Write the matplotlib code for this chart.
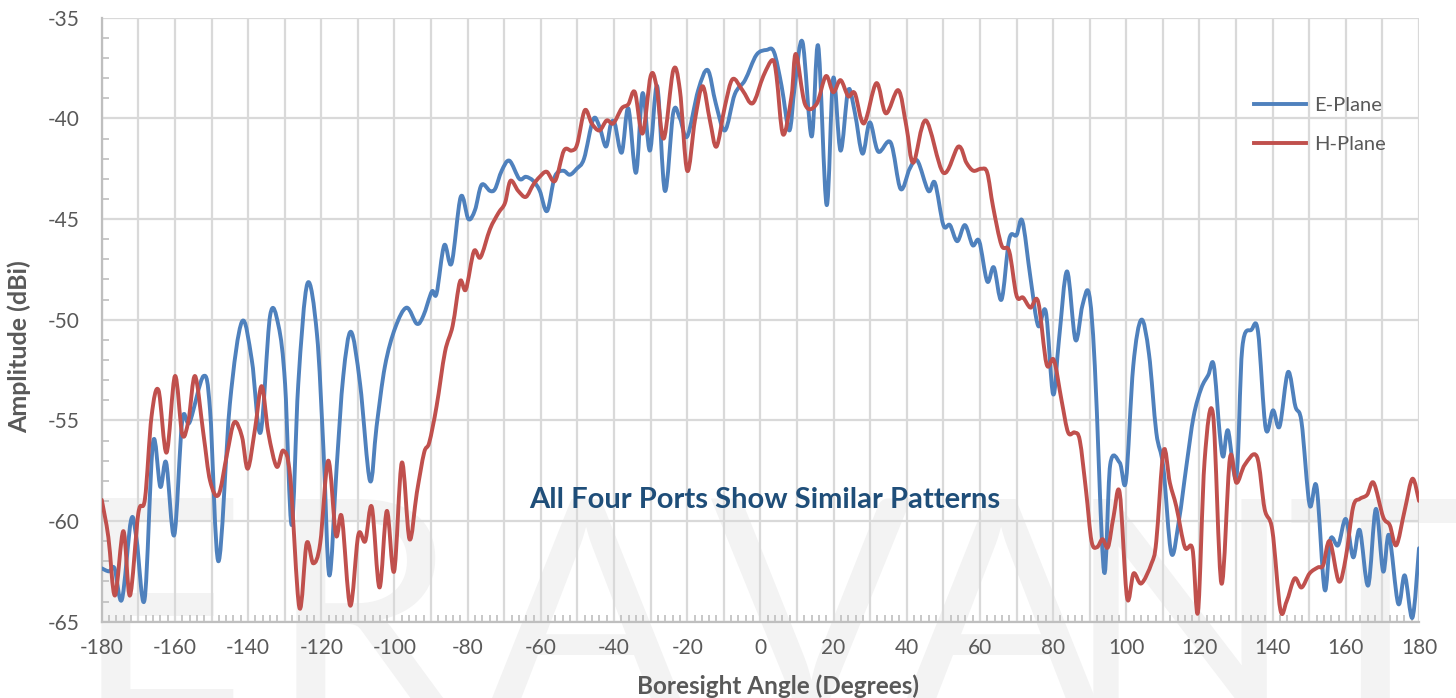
import matplotlib
matplotlib.use("Agg")
import numpy as np
import matplotlib.pyplot as plt
from matplotlib.ticker import MultipleLocator
from matplotlib.path import Path
from matplotlib.patches import PathPatch
from matplotlib.lines import Line2D

# ---------------- data ----------------
e_angle = [-180, -178, -176.5, -174.5, -172, -170.5, -168.3, -166, -164, -162.4, -160.2, -158, -156,
           -152.2, -150.4, -148.1, -145, -141.7, -139, -136.6, -134, -131.7, -129.9, -128.1, -126.3,
           -123.8, -121.2, -119.4, -117.8, -115.8, -114, -111.9, -109.4, -106.7, -104.9, -102.6, -99.8,
           -96.7, -93.9, -92.1, -89.8, -88.5, -86.4, -84.4, -81.9, -79.8, -78, -76.2, -73.9, -72.5,
           -70.7, -68.6, -65.9, -64.1, -62.1, -60.3, -58.3, -56.2, -53.9, -52.1, -50.2, -48.2, -45.7,
           -44, -42.2, -40.9, -39.8, -37.9, -36.1, -34, -32.2, -30.2, -28.2, -26.1, -23.8, -22, -20,
           -17, -14.4, -12.2, -9.7, -7, -4.2, -1.1, 1.7, 3.7, 5.8, 7.9, 9.4, 11.5, 14, 15.8, 18.1,
           19.9, 21.9, 24, 25.8, 27.9, 29.9, 32.2, 35.6, 38.3, 40.8, 42.9, 45.9, 47.7, 50, 51.8, 53.8,
           55.9, 58, 59.8, 62, 63.8, 65.9, 68, 70, 71.6, 73.8, 75.9, 78, 80, 81.6, 83.8, 86.1, 88,
           89.8, 91.4, 93.9, 95.6, 98.2, 99.9, 101.9, 104.1, 106.2, 108.2, 110.1, 112.3, 114.4, 116.4,
           118.4, 120.5, 122.4, 123.9, 125.5, 126.5, 127.8, 130.1, 131.7, 134.2, 136, 138.1, 140.1,
           141.9, 144.2, 146.2, 147.9, 150.1, 152, 154.2, 155.8, 157.9, 160, 162, 163.8, 166.1, 168.2,
           170.2, 171.8, 174.3, 176.1, 178.2, 180]
e_plane = [-62.35, -62.5, -62.35, -63.9, -59.95, -60.9, -63.9, -56.1, -58.3, -57.1, -60.7, -55.0, -55.1,
           -52.8, -54.5, -62.0, -54.2, -50.1, -52.0, -55.6, -49.8, -50.3, -53.2, -60.2, -53.2,
           -48.2, -50.7, -56.5, -62.7, -57.3, -52.8, -50.6, -53.2, -58.0, -55.3, -52.3, -50.4,
           -49.4, -50.2, -49.8, -48.6, -48.7, -46.3, -47.2, -43.9, -45.0, -44.55, -43.3, -43.6, -43.5,
           -42.6, -42.1, -43.0, -42.9, -43.1, -43.6, -44.6, -42.9, -42.6, -42.8, -42.5, -42.0, -40.05,
           -40.4, -41.4, -40.3, -40.25, -41.7, -39.5, -42.7, -38.75, -41.6, -38.4, -43.6, -39.7, -40.0, -40.9,
           -38.6, -37.6, -39.25, -40.6, -38.8, -38.1, -36.85, -36.6, -36.7, -38.4, -40.6, -38.4, -36.2, -40.9, -36.4, -44.3,
           -38.0, -41.6, -38.6, -39.7, -41.75, -40.2, -41.65, -41.2, -43.5, -42.5, -42.1, -43.6, -43.2, -45.3, -45.3, -46.1,
           -45.3, -46.3, -46.1, -48.1, -47.4, -49.0, -46.0, -45.8, -45.1, -47.9, -50.3, -49.6, -53.7, -51.0, -47.6, -51.0, -49.3,
           -48.7, -52.3, -62.5, -57.2, -57.1, -58.0, -52.3, -50.0, -51.7, -55.6, -57.3, -61.6, -59.95, -57.3,
           -54.8, -53.4, -52.75, -52.25, -55.6, -56.8, -55.5, -57.8, -51.4, -50.5, -50.6, -55.4, -54.5,
           -55.3, -52.6, -54.3, -55.1, -59.2, -58.3, -63.4, -60.9, -61.2, -59.9, -61.8, -60.45, -63.2, -59.4,
           -62.5, -60.7, -64.1, -62.7, -64.8, -61.35]

h_angle = [-180, -178.2, -176.4, -174.1, -172.3, -170, -168.2, -166.4, -164.5, -162.3, -160, -158, -156.3,
           -154.5, -152.2, -150.4, -148.1, -145.8, -143.8, -141.7, -140.1, -138.1, -136.3, -134.5, -132.2,
           -130.4, -128.5, -126, -124, -122.2, -120.3, -118.1, -116, -114.4, -112.1, -109.9, -108, -106.2,
           -104.1, -102.1, -100.1, -98, -95.9, -93.9, -91.9, -90.5, -88.5, -86.2, -84.1, -82.1, -80.5,
           -78.3, -76.5, -73.9, -71.6, -69.8, -68.3, -66.2, -64.1, -62.1, -60.3, -58.4, -56.1, -53.7,
           -51.6, -50.1, -48, -46.1, -44, -42, -40.2, -37.9, -36.1, -34.3, -32.2, -30, -28.4, -26.4,
           -23.8, -22, -20, -17.9, -15.8, -13.8, -12, -9.7, -7.6, -4.9, -2.1, 0.8, 3.3, 4.4, 6.2, 8.5,
           9.7, 12.2, 15.3, 17.9, 19.9, 21.9, 24, 25.8, 28.3, 31.7, 34.3, 37.7, 39.9, 41.8, 45.2, 50,
           54.1, 56.3, 58.2, 60.4, 62, 63.6, 65.9, 68, 70, 71.8, 73.8, 75.9, 78.2, 80.2, 82.3, 84.1,
           85.9, 87.3, 89, 90.5, 92, 93.5, 95, 96.5, 98.2, 100.2, 102, 104.1, 106.9, 108.2, 110.2,
           111.9, 113.7, 116, 118.1, 119.6, 121.4, 123.7, 126, 128.3, 130.1, 132.4, 135.7, 137.8,
           139.9, 142.1, 143.8, 146, 147.9, 150.1, 152.4, 153.8, 155.6, 158.1, 160, 162, 163.8, 165.8,
           167.6, 170.2, 172, 173.8, 176.1, 178.2, 180]
h_plane = [-58.95, -60.8, -63.7, -60.5, -63.7, -59.6, -58.9, -54.8, -53.5, -56.6, -52.8, -55.7, -55.0,
           -52.8, -55.7, -58.0, -58.7, -56.7, -55.1, -55.8, -57.4, -55.4, -53.3, -55.6, -57.3,
           -56.5, -57.8, -64.3, -61.1, -62.1, -61.1, -57.0, -60.7, -59.8, -64.2, -60.7, -61.0, -59.3,
           -63.3, -59.5, -62.5, -57.1, -60.9, -58.6, -56.6, -56.1, -54.3, -51.6, -50.3, -48.1, -48.5,
           -46.6, -46.9, -45.5, -44.7, -44.2, -43.1, -43.6, -43.9, -43.3, -42.9, -42.65, -43.1, -41.6,
           -41.6, -41.3, -39.6, -40.25, -40.6, -40.1, -40.25, -39.5, -39.3, -38.7, -40.75, -37.9, -38.4, -41.0,
           -37.6, -38.6, -42.6, -40.1, -38.4, -40.1, -41.4, -39.4, -38.05, -38.6, -39.25, -37.9, -37.1, -37.9, -40.8, -38.9,
           -36.8, -39.3, -39.3, -37.9, -38.7, -38.1, -38.9, -38.75, -40.25, -38.25, -39.75, -38.6, -40.4, -42.2, -40.1, -42.7,
           -41.4, -42.2, -42.6, -42.5, -42.7, -44.4, -46.3, -46.6, -48.8, -48.9, -49.4, -49.1, -52.2, -52.0, -54.0, -55.6,
           -55.6, -56.0, -58.5, -61.0, -61.3, -60.9, -61.3, -59.8, -58.6, -63.8, -62.6, -63.1, -62.1, -61.0, -56.5,
           -58.1, -59.3, -61.3, -61.4, -64.5, -57.0, -54.7, -63.1, -56.9, -58.1, -57.2, -56.8, -59.4,
           -60.45, -64.4, -64.0, -62.85, -63.3, -62.6, -62.3, -62.2, -61.0, -63.0, -61.8, -59.3, -58.9, -58.7,
           -58.1, -59.8, -60.2, -61.2, -59.45, -57.9, -59.0]

x_ticks = list(range(-180, 181, 10))
x_labels = [str(v) if v % 20 == 0 else "" for v in x_ticks]
y_ticks = list(range(-65, -34, 5))
series_names = ["E-Plane", "H-Plane"]
annotation = "All Four Ports Show Similar Patterns"
watermark = "ERAVANT"

# ---------------- helpers ----------------
def smooth_path(xs, ys):
    """Excel-like smoothed line: Catmull-Rom segments drawn as cubic Bezier curves."""
    p = np.column_stack([xs, ys]).astype(float)
    pts = np.vstack([p[0], p, p[-1]])
    verts = [p[0]]
    codes = [Path.MOVETO]
    for i in range(1, len(pts) - 2):
        p0, p1, p2, p3 = pts[i - 1], pts[i], pts[i + 1], pts[i + 2]
        c1 = p1 + (p2 - p0) / 6.0
        c2 = p2 - (p3 - p1) / 6.0
        verts += [c1, c2, p2]
        codes += [Path.CURVE4] * 3
    return Path(verts, codes)

# ---------------- drawing ----------------
plt.rcParams["font.family"] = ["Lato", "DejaVu Sans"]
plt.rcParams["axes.unicode_minus"] = False
fig = plt.figure(figsize=(14.56, 6.98), dpi=100)
ax = fig.add_axes([0.0699, 0.1093, 0.9047, 0.8653])
ax.patch.set_alpha(0)

BLUE = "#4F81BD"
RED = "#C0504D"
GRID = "#D9D9D9"
TXT = "#595959"

# watermark letters behind everything
wm_x = [160, 362, 585, 810, 1000, 1180, 1375]
for ch, px in zip(watermark, wm_x):
    fig.text(px / 1456, -0.095, ch, fontsize=215, color="#F3F3F3", ha="center",
             va="bottom", fontweight="normal", zorder=-10)

for xs, ys, col in [(e_angle, e_plane, BLUE), (h_angle, h_plane, RED)]:
    ax.add_patch(PathPatch(smooth_path(xs, ys), facecolor="none", edgecolor=col, lw=2.8,
                           capstyle="round", joinstyle="round", zorder=3))

ax.set_xlim(-180, 180)
ax.set_ylim(-65, -35)
ax.set_xticks(x_ticks)
ax.set_xticklabels(x_labels)
ax.set_yticks(y_ticks)
ax.xaxis.set_minor_locator(MultipleLocator(2))
ax.yaxis.set_minor_locator(MultipleLocator(1))
ax.grid(True, which="major", color=GRID, lw=1.6)
ax.set_axisbelow(True)

for s in ["top", "right"]:
    ax.spines[s].set_visible(False)
for s in ["left", "bottom"]:
    ax.spines[s].set_color("#BFBFBF")
    ax.spines[s].set_linewidth(1.6)

ax.tick_params(axis="both", which="major", length=0, labelsize=15, labelcolor=TXT)
ax.tick_params(axis="x", which="major", pad=12)
ax.tick_params(axis="y", which="major", pad=16)
ax.tick_params(axis="x", which="minor", direction="in", length=5, color="#BFBFBF", width=1.2)
ax.tick_params(axis="y", which="minor", direction="in", length=5, color="#BFBFBF", width=1.2)

ax.set_xlabel("Boresight Angle (Degrees)", fontsize=17.5, fontweight="bold", color=TXT)
ax.set_ylabel("Amplitude (dBi)", fontsize=18, fontweight="bold", color=TXT)
ax.xaxis.set_label_coords((778 - 101.7) / 1317.3, -0.088)
ax.yaxis.set_label_coords(-0.0535, 0.455)

ax.text(1.2, -58.95, annotation, fontsize=21, fontweight="bold", color="#1F4E79",
        ha="center", va="center", zorder=4)

handles = [Line2D([], [], color=BLUE, lw=2.8), Line2D([], [], color=RED, lw=2.8)]
leg = ax.legend(handles, series_names, loc="upper left", bbox_to_anchor=(0.861, 0.899),
                frameon=False, fontsize=14.5, handlelength=2.6, labelspacing=1.08,
                handletextpad=0.4)
for t in leg.get_texts():
    t.set_color(TXT)

fig.savefig("out.png", dpi=100)
